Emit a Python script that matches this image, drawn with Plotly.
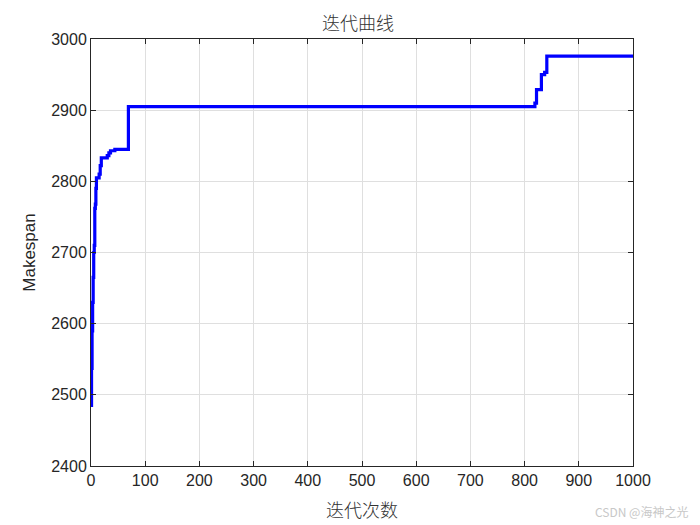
import plotly.graph_objects as go

# best makespan found so far: iterations where it changes, and the value from there on
iters = [0, 1, 2, 3, 4, 5, 6, 7, 8, 9, 10, 15, 17, 19, 30, 33, 36, 44, 69,
         819, 822, 831, 837, 841, 1000]
makespan = [2485, 2537, 2590, 2630, 2665, 2700, 2710, 2762, 2768, 2790, 2805,
            2810, 2822, 2833, 2836, 2840, 2843, 2845, 2905,
            2910, 2929, 2950, 2953, 2976, 2976]

x_ticks = list(range(0, 1001, 100))
y_ticks = list(range(2400, 3001, 100))

fig = go.Figure()
fig.add_trace(go.Scatter(x=iters, y=makespan, mode="lines", line_shape="hv",
                         line=dict(color="#0000ff", width=3.2)))

axis_style = dict(showline=True, linecolor="#262626", linewidth=1, mirror="ticks",
                  ticks="inside", ticklen=5, tickcolor="#262626",
                  showgrid=True, gridcolor="#dfdfdf", gridwidth=1, zeroline=False,
                  tickfont=dict(family="Liberation Sans, Arial", size=16, color="#262626"))

cjk = dict(family="Noto Sans CJK SC", size=18, color="#333333", weight=300)

fig.update_layout(
    width=700, height=525,
    margin=dict(l=83, r=75, t=31, b=67),
    paper_bgcolor="white", plot_bgcolor="white",
    showlegend=False,
    title=dict(text="迭代曲线", x=0.5, xanchor="center", y=1 - 16 / 525, yanchor="middle",
               font=cjk),
    xaxis=dict(range=[0, 1000], tickvals=x_ticks, **axis_style),
    yaxis=dict(range=[2400, 3000], tickvals=y_ticks,
               title=dict(text="Makespan", standoff=11,
                          font=dict(family="Liberation Sans, Arial", size=17, color="#262626")),
               **axis_style),
)

# x label placed by hand so it sits where the original one does
fig.add_annotation(text="迭代次数", xref="paper", yref="paper", x=0.5, y=-0.101,
                   xanchor="center", yanchor="middle", showarrow=False, font=cjk)

fig.add_annotation(text="CSDN @海神之光", xref="paper", yref="paper",
                   x=1.105, y=-0.107, xanchor="right", yanchor="middle", showarrow=False,
                   font=dict(family="Noto Sans CJK SC", size=12, color="#c8c8c8"))

fig.write_html("out.html")
